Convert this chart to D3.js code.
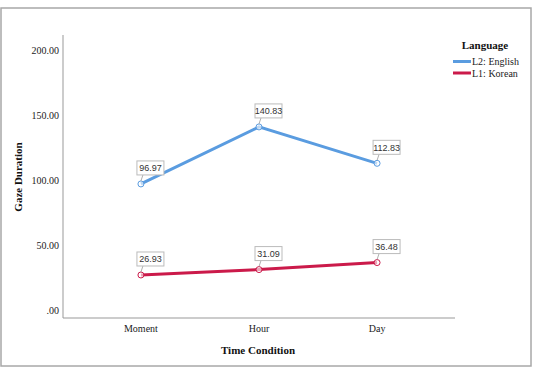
<!DOCTYPE html>
<html>
<head>
<meta charset="utf-8">
<script src="https://cdn.jsdelivr.net/npm/d3@7"></script>
<style>
  body { margin: 0; background: #fff; }
  svg { display: block; }
</style>
</head>
<body>
<svg id="chart" width="535" height="368"></svg>
<script>
var categories = ['Moment', 'Hour', 'Day'];
var seriesNames = ['L2: English', 'L1: Korean'];
var english = [96.97, 140.83, 112.83];
var korean = [26.93, 31.09, 36.48];
var yTicks = [0, 50, 100, 150, 200];

var colors = ['#5a9ce0', '#cb1a4a'];
var series = [english, korean];

var svg = d3.select('#chart');
var serif = '"Liberation Serif", "DejaVu Serif", serif';
var sans = '"Liberation Sans", Arial, sans-serif';

// outer frame
svg.append('rect')
    .attr('x', 1).attr('y', 8)
    .attr('width', 530).attr('height', 358)
    .attr('fill', 'none')
    .attr('stroke', '#a8a8a8')
    .attr('stroke-width', 1.5);

var x = d3.scalePoint()
    .domain(categories)
    .range([63, 455])
    .padding(0.66);

var y = d3.scaleLinear()
    .domain([0, 200])
    .range([310, 50]);

// axis lines
svg.append('line')
    .attr('x1', 63).attr('x2', 63)
    .attr('y1', 35).attr('y2', 318)
    .attr('stroke', '#999').attr('stroke-width', 1);
svg.append('line')
    .attr('x1', 63).attr('x2', 455)
    .attr('y1', 318).attr('y2', 318)
    .attr('stroke', '#999').attr('stroke-width', 1);

// y tick labels
svg.append('g').selectAll('text')
    .data(yTicks)
    .enter().append('text')
    .attr('x', 59)
    .attr('y', function(d) { return y(d); })
    .attr('dy', '0.35em')
    .attr('text-anchor', 'end')
    .style('font-family', serif)
    .style('font-size', '10px')
    .style('fill', '#222')
    .text(function(d) { return d === 0 ? '.00' : d.toFixed(2); });

// x tick labels
svg.append('g').selectAll('text')
    .data(categories)
    .enter().append('text')
    .attr('x', function(d) { return x(d); })
    .attr('y', 332)
    .attr('text-anchor', 'middle')
    .style('font-family', serif)
    .style('font-size', '10px')
    .style('fill', '#222')
    .text(function(d) { return d; });

// axis titles
svg.append('text')
    .attr('x', 258).attr('y', 354)
    .attr('text-anchor', 'middle')
    .style('font-family', serif)
    .style('font-size', '11px')
    .style('font-weight', 'bold')
    .style('fill', '#111')
    .text('Time Condition');

svg.append('text')
    .attr('transform', 'translate(22,177) rotate(-90)')
    .attr('text-anchor', 'middle')
    .style('font-family', serif)
    .style('font-size', '11px')
    .style('font-weight', 'bold')
    .style('fill', '#111')
    .text('Gaze Duration');

var line = d3.line()
    .x(function(d, i) { return x(categories[i]); })
    .y(function(d) { return y(d); });

series.forEach(function(vals, s) {
  var g = svg.append('g');
  g.append('path')
      .datum(vals)
      .attr('d', line)
      .attr('fill', 'none')
      .attr('stroke', colors[s])
      .attr('stroke-width', 3);

  g.selectAll('circle')
      .data(vals)
      .enter().append('circle')
      .attr('cx', function(d, i) { return x(categories[i]); })
      .attr('cy', function(d) { return y(d); })
      .attr('r', 3)
      .attr('fill', '#fff')
      .attr('fill-opacity', 0.6)
      .attr('stroke', colors[s])
      .attr('stroke-width', 1);

  // value labels with leader lines
  var lab = g.selectAll('g.lab')
      .data(vals)
      .enter().append('g')
      .attr('class', 'lab')
      .attr('transform', function(d, i) {
        return 'translate(' + x(categories[i]) + ',' + y(d) + ')';
      });
  lab.append('line')
      .attr('x1', 0).attr('y1', -3)
      .attr('x2', 2).attr('y2', -9)
      .attr('stroke', '#999').attr('stroke-width', 0.8);
  lab.append('rect')
      .attr('x', -4).attr('y', -23)
      .attr('width', 27).attr('height', 14)
      .attr('fill', '#fff')
      .attr('stroke', '#bbb')
      .attr('stroke-width', 1);
  lab.append('text')
      .attr('x', 9.5).attr('y', -12.5)
      .attr('text-anchor', 'middle')
      .style('font-family', sans)
      .style('font-size', '9px')
      .style('fill', '#333')
      .text(function(d) { return d.toFixed(2); });
});

// legend
var legend = svg.append('g');
legend.append('text')
    .attr('x', 485).attr('y', 49)
    .attr('text-anchor', 'middle')
    .style('font-family', serif)
    .style('font-size', '11px')
    .style('font-weight', 'bold')
    .style('fill', '#111')
    .text('Language');

var items = legend.selectAll('g.item')
    .data(seriesNames)
    .enter().append('g')
    .attr('class', 'item')
    .attr('transform', function(d, i) { return 'translate(0,' + (61.5 + i * 11.5) + ')'; });
items.append('line')
    .attr('x1', 453).attr('x2', 471)
    .attr('stroke', function(d, i) { return colors[i]; })
    .attr('stroke-width', 3);
items.append('text')
    .attr('x', 472).attr('dy', '0.35em')
    .style('font-family', serif)
    .style('font-size', '10px')
    .style('fill', '#222')
    .text(function(d) { return d; });
</script>
</body>
</html>
